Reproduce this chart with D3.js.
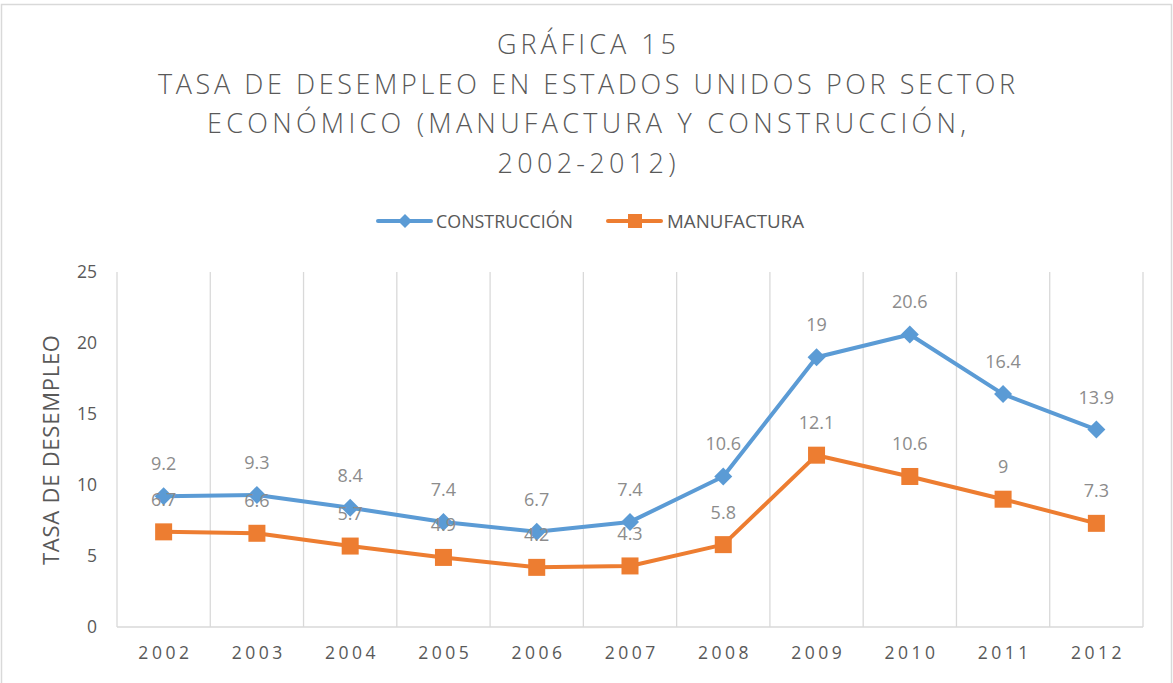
<!DOCTYPE html>
<html>
<head>
<meta charset="utf-8">
<script src="https://cdn.jsdelivr.net/npm/d3@7"></script>
<style>
  body { margin: 0; background: #fff; }
  svg { font-family: "Open Sans", sans-serif; }
</style>
</head>
<body>
<svg width="1173" height="683"></svg>
<script>
const WIDTH = 1173;
const HEIGHT = 683;
const PLOT = { left: 117, right: 1143, top: 272, bottom: 627 };
const BLUE = "#5b9bd5";
const ORANGE = "#ed7d31";
const GRID = "#d9d9d9";
const TEXT = "#595959";

const years = ["2002", "2003", "2004", "2005", "2006", "2007", "2008", "2009", "2010", "2011", "2012"];
const construccion = [9.2, 9.3, 8.4, 7.4, 6.7, 7.4, 10.6, 19, 20.6, 16.4, 13.9];
const manufactura = [6.7, 6.6, 5.7, 4.9, 4.2, 4.3, 5.8, 12.1, 10.6, 9, 7.3];
const yTicks = [0, 5, 10, 15, 20, 25];
const titleLines = [
  "GRÁFICA 15",
  "TASA DE DESEMPLEO EN ESTADOS UNIDOS POR SECTOR",
  "ECONÓMICO (MANUFACTURA Y CONSTRUCCIÓN,",
  "2002-2012)"
];
const titleWidths = [179, 857, 759, 178]; // measured line widths
const series = [
  { name: "CONSTRUCCIÓN", values: construccion, color: BLUE, marker: "diamond" },
  { name: "MANUFACTURA", values: manufactura, color: ORANGE, marker: "square" }
];

const svg = d3.select("svg");

// chart border
svg.append("rect")
  .attr("x", 1.5)
  .attr("y", 4.5)
  .attr("width", WIDTH - 3)
  .attr("height", HEIGHT + 10)
  .attr("fill", "none")
  .attr("stroke", GRID)
  .attr("stroke-width", 1.5);

const x = d3.scaleBand().domain(years).range([PLOT.left, PLOT.right]).padding(0);
const y = d3.scaleLinear().domain([0, 25]).range([PLOT.bottom, PLOT.top]);

// title
svg.append("g")
  .selectAll("text")
  .data(titleLines)
  .join("text")
  .attr("x", WIDTH / 2)
  .attr("y", (d, i) => 54 + i * 39.5)
  .attr("text-anchor", "middle")
  .attr("font-size", 27)
  .attr("font-weight", 300)
  .attr("fill", TEXT)
  .attr("textLength", (d, i) => titleWidths[i])
  .attr("lengthAdjust", "spacing")
  .text(d => d);

// vertical gridlines at category boundaries
const bounds = years.map(d => x(d)).concat([x(years[years.length - 1]) + x.bandwidth()]);
svg.append("g")
  .selectAll("line")
  .data(bounds)
  .join("line")
  .attr("x1", d => d)
  .attr("x2", d => d)
  .attr("y1", y(25))
  .attr("y2", y(0))
  .attr("stroke", GRID)
  .attr("stroke-width", 1.3);

// bottom axis line
svg.append("line")
  .attr("x1", PLOT.left)
  .attr("x2", PLOT.right)
  .attr("y1", y(0))
  .attr("y2", y(0))
  .attr("stroke", GRID)
  .attr("stroke-width", 1.3);

// y axis labels
const yAxis = d3.axisLeft(y).tickValues(yTicks).tickSize(0).tickPadding(20);
const gy = svg.append("g").attr("transform", `translate(${PLOT.left},0)`).call(yAxis);
gy.select(".domain").remove();
gy.selectAll("text")
  .attr("font-family", "Open Sans")
  .attr("font-size", 17.5)
  .attr("fill", TEXT);

// x axis labels
const xAxis = d3.axisBottom(x).tickSize(0).tickPadding(20);
const gx = svg.append("g").attr("transform", `translate(0,${PLOT.bottom})`).call(xAxis);
gx.select(".domain").remove();
gx.selectAll("text")
  .attr("font-family", "Open Sans")
  .attr("font-size", 17.5)
  .attr("fill", TEXT)
  .attr("letter-spacing", 3.5)
  .attr("dx", 1.75);

// y axis title
svg.append("text")
  .attr("transform", "translate(59,450) rotate(-90)")
  .attr("text-anchor", "middle")
  .attr("font-size", 22)
  .attr("fill", TEXT)
  .attr("textLength", 230)
  .attr("lengthAdjust", "spacing")
  .text("TASA DE DESEMPLEO");

const cx = d => x(d) + x.bandwidth() / 2;

function drawMarker(g, type, color, px, py) {
  if (type === "diamond") {
    g.append("path")
      .attr("d", `M${px},${py - 9}L${px + 9},${py}L${px},${py + 9}L${px - 9},${py}Z`)
      .attr("fill", color);
  } else {
    g.append("rect")
      .attr("x", px - 8.5)
      .attr("y", py - 8.5)
      .attr("width", 17)
      .attr("height", 17)
      .attr("fill", color);
  }
}

const line = d3.line().x((d, i) => cx(years[i])).y(d => y(d));

for (let s of series) {
  const g = svg.append("g");
  g.append("path")
    .datum(s.values)
    .attr("d", line)
    .attr("fill", "none")
    .attr("stroke", s.color)
    .attr("stroke-width", 4)
    .attr("stroke-linejoin", "round");
  s.values.forEach((v, i) => drawMarker(g, s.marker, s.color, cx(years[i]), y(v)));
}

// data labels drawn on top of everything
for (let s of series) {
  svg.append("g")
    .selectAll("text")
    .data(s.values)
    .join("text")
    .attr("x", (d, i) => cx(years[i]))
    .attr("y", d => y(d) - 26)
    .attr("text-anchor", "middle")
    .attr("font-size", 18)
    .attr("fill", "#8c8c8c")
    .text(d => d);
}

// legend
const legend = svg.append("g");
const legendItems = [
  { s: series[0], x0: 378, tx: 436 },
  { s: series[1], x0: 608, tx: 667 }
];
for (let item of legendItems) {
  legend.append("line")
    .attr("x1", item.x0)
    .attr("x2", item.x0 + 53)
    .attr("y1", 221)
    .attr("y2", 221)
    .attr("stroke", item.s.color)
    .attr("stroke-width", 4)
    .attr("stroke-linecap", "round");
  if (item.s.marker === "diamond") {
    legend.append("path")
      .attr("d", `M${item.x0 + 27},214L${item.x0 + 34},221L${item.x0 + 27},228L${item.x0 + 20},221Z`)
      .attr("fill", item.s.color);
  } else {
    legend.append("rect")
      .attr("x", item.x0 + 20)
      .attr("y", 214)
      .attr("width", 14)
      .attr("height", 14)
      .attr("fill", item.s.color);
  }
  legend.append("text")
    .attr("x", item.tx)
    .attr("y", 227.5)
    .attr("font-size", 17.5)
    .attr("fill", TEXT)
    .attr("textLength", 137)
    .attr("lengthAdjust", "spacingAndGlyphs")
    .text(item.s.name);
}
</script>
</body>
</html>
